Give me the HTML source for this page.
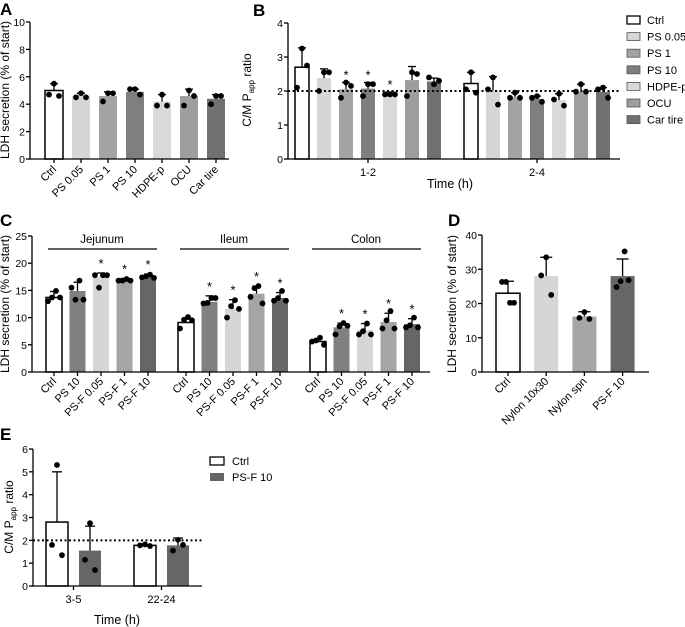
<!DOCTYPE html>
<html><head><meta charset="utf-8"><style>
html,body{margin:0;padding:0;background:#fff;}
svg{display:block;font-family:"Liberation Sans",Arial,sans-serif;}
</style></head><body>
<svg id="fig" width="685" height="627" viewBox="0 0 685 627" xmlns="http://www.w3.org/2000/svg"></svg>
<script>
// Panel A data
const aCats=["Ctrl","PS 0.05","PS 1","PS 10","HDPE-p","OCU","Car tire"];
const aMeans=[5.0,4.6,4.6,4.9,4.2,4.6,4.4];
const aErr=[5.5,4.8,4.9,5.1,4.7,5.1,4.7];
const aPts=[[5.5,4.7,4.6],[4.8,4.5,4.5],[4.8,4.2,4.8],[5.1,5.1,4.7],[4.7,3.9,3.9],[5.0,3.9,4.6],[4.6,4.0,4.6]];
const aTicks=[0,2,4,6,8,10];
// Panel B data
const bGroups=["1-2","2-4"];
const bSeries=["Ctrl","PS 0.05","PS 1","PS 10","HDPE-p","OCU","Car tire"];
const bMeans=[[2.7,2.38,2.05,2.07,1.9,2.32,2.28],[2.22,2.02,1.83,1.77,1.73,1.97,1.97]];
const bErr=[[3.27,2.65,2.25,2.25,1.97,2.72,2.38],[2.55,2.42,1.95,1.85,1.92,2.2,2.1]];
const bPts=[[[3.25,2.1,2.75],[2.55,2.0,2.55],[2.25,1.8,2.15],[2.2,1.85,2.2],[1.9,1.9,1.9],[2.55,1.85,2.5],[2.2,2.4,2.3]],
            [[2.55,2.05,1.95],[2.4,2.05,1.6],[1.95,1.8,1.8],[1.85,1.8,1.68],[1.92,1.75,1.57],[2.2,1.98,1.98],[2.1,2.05,1.8]]];
const bStars=[[false,false,true,true,true,false,false],[false,false,false,false,false,false,false]];
const bTicks=[0,1,2,3,4];
// Panel C data
const cGroups=["Jejunum","Ileum","Colon"];
const cCats=["Ctrl","PS 10","PS-F 0.05","PS-F 1","PS-F 10"];
const cMeans=[[13.7,14.9,17.5,16.8,17.4],[9.1,12.9,11.6,14.4,13.6],[5.6,8.2,7.7,9.2,8.8]];
const cErr=[[14.8,16.5,18.2,17.2,18.0],[9.9,14.0,13.3,15.8,14.6],[6.1,9.0,8.9,10.8,9.8]];
const cPts=[[[13.7,14.9,13.0,13.7],[13.3,16.8,15.5,13.3],[15.5,17.8,17.8,17.8],[16.8,17.1,16.8,16.8],[17.6,17.9,17.4,17.3]],
            [[9.6,10.1,8.0,9.5],[12.7,13.6,12.6,13.6],[12.1,13.2,10.0,11.6],[15.4,15.8,13.8,12.6],[13.6,14.9,13.1,13.1]],
            [[5.8,6.3,5.6,5.0],[8.4,9.0,6.9,8.5],[7.5,8.9,6.9,6.9],[9.5,11.2,8.0,8.0],[8.6,10.0,8.2,8.2]]];
const cStars=[[false,false,true,true,true],[false,true,true,true,true],[false,true,true,true,true]];
const cTicks=[0,5,10,15,20,25];
// Panel D data
const dCats=["Ctrl","Nylon 10x30","Nylon spn","PS-F 10"];
const dMeans=[23,28,16.2,28];
const dErr=[26.5,33.5,17.6,33];
const dPts=[[26.3,20.2,26.3,20.2],[33.5,28.2,22.5],[17.5,15.8,15.5],[26.5,35.2,24.8,26.8]];
const dTicks=[0,10,20,30,40];
// Panel E data
const eGroups=["3-5","22-24"];
const eSeries=["Ctrl","PS-F 10"];
const eMeans=[[2.8,1.55],[1.78,1.78]];
const eErr=[[5.0,2.62],[1.8,2.1]];
const ePts=[[[5.3,1.8,1.35],[2.75,1.15,0.7]],[[1.82,1.78,1.75],[2.02,1.55,1.8]]];
const eTicks=[0,1,2,3,4,5,6];

const NS="http://www.w3.org/2000/svg";
const svg=document.getElementById('fig');
function mk(tag,attrs,parent,name){const e=document.createElementNS(NS,tag);for(const k in attrs)e.setAttribute(k,attrs[k]);(parent||svg).appendChild(e);


return e;}
function txt(x,y,s,attrs,name){const t=mk('text',Object.assign({x:x,y:y,'font-size':11,fill:'#000'},attrs||{}),null,name);t.textContent=s;return t;}
function lin(x1,y1,x2,y2,w,name,extra){return mk('line',Object.assign({x1:x1,y1:y1,x2:x2,y2:y2,stroke:'#000','stroke-width':w||1.3},extra||{}),null,name);}
function scale(v0,v1,p0,p1){return v=>p0+(v-v0)/(v1-v0)*(p1-p0);}
function yAxis(x,y,ticks,label,name){
  lin(x,y(ticks[0])+0.6,x,y(ticks[ticks.length-1]),1.3,name+'-axis');
  ticks.forEach(t=>{lin(x-4,y(t),x,y(t),1.3,name+'-tick');txt(x-5,y(t)+4,String(t),{'text-anchor':'end','font-size':10.5},name+'-tick-label');});
}
function bar(cx,w,v,y,fill,name){
  const y0=y(0),yt=y(v);
  mk('rect',{x:cx-w/2,y:yt,width:w,height:y0-yt,fill:fill,stroke:fill==='#fff'?'#000':'none','stroke-width':1.5},null,name);
}
function errbar(cx,mean,top,y,cap){lin(cx,y(mean),cx,y(top),1.3,'error-bar');lin(cx-cap,y(top),cx+cap,y(top),1.3,'error-cap');}
const offs={3:[0,-5,5],4:[-2,2,-6,6]};
function pts(cx,arr,y){arr.forEach((v,i)=>{mk('circle',{cx:cx+offs[arr.length][i],cy:y(v),r:2.9,fill:'#000'},null,'data-point');});}
function star(cx,yy){txt(cx,yy,'*',{'text-anchor':'middle','font-size':13},'significance-star');}
function rotLabel(cx,ty,s,name){txt(cx+3,ty,s,{'text-anchor':'end','font-size':11,transform:`rotate(-45 ${cx+3} ${ty})`},name);}
function vTitle(x,cy,s,name,sub){const t=txt(x,cy,'',{'text-anchor':'middle','font-size':12,transform:`rotate(-90 ${x} ${cy})`},name);
  if(sub){const a=document.createElementNS(NS,'tspan');a.textContent='C/M P';t.appendChild(a);
   const b=document.createElementNS(NS,'tspan');b.setAttribute('font-size','8');b.setAttribute('dy','3');b.textContent='app';t.appendChild(b);
   const c=document.createElementNS(NS,'tspan');c.setAttribute('dy','-3');c.textContent=' ratio';t.appendChild(c);}
  else t.textContent=s;}
function letter(x,y,s){txt(x,y,s,{'font-size':17,'font-weight':'bold'},'panel-letter-'+s);}

// ---- Panel A
letter(0,15,'A');
const aColors=['#fff','#d6d6d6','#a3a3a3','#7f7f7f','#d9d9d9','#9e9e9e','#707070'];
const yA=scale(0,10,159,22);
aCats.forEach((c,i)=>{const cx=54+i*27;bar(cx,18,aMeans[i],yA,aColors[i],'bar-a-'+i);errbar(cx,aMeans[i],aErr[i],yA,4);pts(cx,aPts[i],yA);
  lin(cx,159,cx,163,1.3,'x-tick');rotLabel(cx,170,c,'x-label-a');});
lin(30,159,229,159,1.3,'x-axis-a');
yAxis(30,yA,aTicks,'','y-a');
vTitle(9,90,'LDH secretion (% of start)','y-axis-title-a');

// ---- Panel B
letter(253,16,'B');
const bColors=['#fff','#d6d6d6','#a3a3a3','#7f7f7f','#d9d9d9','#9e9e9e','#707070'];
const yB=scale(0,4,159,23);
const bStart=[302,471];
bGroups.forEach((g,gi)=>{bSeries.forEach((s,i)=>{const cx=bStart[gi]+i*22;bar(cx,14,bMeans[gi][i],yB,bColors[i],'bar-b');
  errbar(cx,bMeans[gi][i],bErr[gi][i],yB,4);pts(cx,bPts[gi][i],yB);if(bStars[gi][i])star(cx,yB(bErr[gi][i])-3);});
  const gc=bStart[gi]+3*22;lin(gc,159,gc,163,1.3,'x-tick');txt(gc,176,g,{'text-anchor':'middle','font-size':11},'x-label-b');});
lin(288,159,620,159,1.3,'x-axis-b');
lin(288,yB(2),620,yB(2),2,'reference-line-b',{'stroke-dasharray':'2,2.5'});
yAxis(288,yB,bTicks,'','y-b');
vTitle(251,90,'','y-axis-title-b',true);
txt(450,188,'Time (h)',{'text-anchor':'middle','font-size':12.5},'x-axis-title-b');
bSeries.forEach((s,i)=>{const ly=20+i*16.6;mk('rect',{x:627,y:ly-4,width:13,height:8,fill:bColors[i],stroke:i===0?'#000':'#555','stroke-width':i===0?1.3:0.8},null,'legend-swatch');
  txt(647,ly+4,s,{'font-size':11},'legend-entry');});

// ---- Panel C
letter(0,226,'C');
const cColors=['#fff','#808080','#d6d6d6','#a5a5a5','#666'];
const yC=scale(0,25,372,236);
const cStart=[54,186,318];
cGroups.forEach((g,gi)=>{
  lin(cStart[gi]-6,249,cStart[gi]+103,249,1.2,'group-line');
  txt(cStart[gi]+48,243,g,{'text-anchor':'middle','font-size':11.5},'group-label');
  cCats.forEach((c,i)=>{const cx=cStart[gi]+i*23.5;bar(cx,16,cMeans[gi][i],yC,cColors[i],'bar-c');errbar(cx,cMeans[gi][i],cErr[gi][i],yC,4);
  pts(cx,cPts[gi][i],yC);if(cStars[gi][i])star(cx,yC(cErr[gi][i])-5);lin(cx,372,cx,376,1.3,'x-tick');rotLabel(cx,382,c,'x-label-c');});});
lin(32,372,430,372,1.3,'x-axis-c');
yAxis(32,yC,cTicks,'','y-c');
vTitle(9,304,'LDH secretion (% of start)','y-axis-title-c');

// ---- Panel D
letter(448,226,'D');
const dColors=['#fff','#d6d6d6','#a6a6a6','#666'];
const yD=scale(0,40,372,235);
dCats.forEach((c,i)=>{const cx=508+i*38.2;bar(cx,24,dMeans[i],yD,dColors[i],'bar-d');errbar(cx,dMeans[i],dErr[i],yD,6);pts(cx,dPts[i],yD);
  lin(cx,372,cx,376,1.3,'x-tick');rotLabel(cx,382,c,'x-label-d');});
lin(482,372,649,372,1.3,'x-axis-d');
yAxis(482,yD,dTicks,'','y-d');
vTitle(456,304,'LDH secretion (% of start)','y-axis-title-d');

// ---- Panel E
letter(0,440,'E');
const eColors=['#fff','#666'];
const yE=scale(0,6,586,449);
const eStart=[57,145];
eGroups.forEach((g,gi)=>{eSeries.forEach((s,i)=>{const cx=eStart[gi]+i*33;bar(cx,22,eMeans[gi][i],yE,eColors[i],'bar-e');
  errbar(cx,eMeans[gi][i],eErr[gi][i],yE,5);pts(cx,ePts[gi][i],yE);});
  const gc=eStart[gi]+16.5;lin(gc,586,gc,590,1.3,'x-tick');txt(gc,603,g,{'text-anchor':'middle','font-size':11},'x-label-e');});
lin(33,586,202,586,1.3,'x-axis-e');
lin(33,yE(2),202,yE(2),2,'reference-line-e',{'stroke-dasharray':'2,2.5'});
yAxis(33,yE,eTicks,'','y-e');
vTitle(13,517,'','y-axis-title-e',true);
txt(117,624,'Time (h)',{'text-anchor':'middle','font-size':12.5},'x-axis-title-e');
eSeries.forEach((s,i)=>{const ly=461+i*16;mk('rect',{x:210,y:ly-4,width:14,height:8,fill:eColors[i],stroke:i===0?'#000':'none','stroke-width':1.3},null,'legend-swatch-e');
  txt(232,ly+4,s,{'font-size':11},'legend-entry-e');});
</script>
</body></html>
